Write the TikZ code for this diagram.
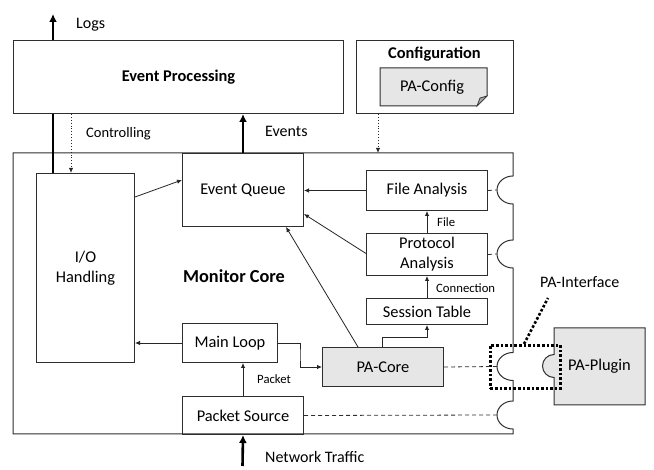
\documentclass[tikz,border=0pt]{standalone}
\usepackage{fontspec}
\setmainfont{Carlito}
\usetikzlibrary{arrows.meta,calc}
\definecolor{lc}{HTML}{2E2E2E}
\definecolor{gf}{HTML}{E6E6E6}
\definecolor{gd}{HTML}{A6A6A6}
\begin{document}
\begin{tikzpicture}[x=1pt,y=-1pt,
  box/.style={draw=lc, line width=1pt, inner sep=0pt, anchor=north west, align=center, font=\fontsize{16.4}{20}\selectfont},
  gbox/.style={box, fill=gf},
  txt/.style={inner sep=0pt, align=center, font=\fontsize{16.4}{20}\selectfont},
  lbl/.style={inner sep=0pt, anchor=west, font=\fontsize{16}{19}\selectfont},
  slbl/.style={inner sep=0pt, anchor=west, font=\fontsize{12.7}{15}\selectfont},
  arr/.style={draw=black!85, line width=0.8pt, -{Latex[length=5pt,width=4.5pt]}},
  tarr/.style={draw=black, line width=2.6pt, -{Latex[length=8pt,width=8pt]}},
  tline/.style={draw=black, line width=2.6pt},
  darr/.style={draw=black!85, line width=0.9pt, dotted, -{Latex[length=5pt,width=4.5pt]}},
  dline/.style={draw=lc, line width=0.8pt, dash pattern=on 4pt off 3pt},
  pdot/.style={draw=black, line width=2.6pt, dash pattern=on 2.6pt off 2pt},
]
\useasboundingbox (0,0) rectangle (654,470);

% Event Processing and Configuration
\node[box, minimum width=330pt, minimum height=73pt, font=\bfseries\fontsize{16.4}{20}\selectfont] (ep) at (13,40) {Event Processing};
\node[box, minimum width=157pt, minimum height=73pt] (cfg) at (356,40) {};
\node[txt, font=\bfseries\fontsize{16.4}{20}\selectfont] (cfgt) at (434.5,54) {Configuration};
\filldraw[fill=gf, draw=lc, line width=1pt] (380,68) -- (487,68) -- (487,96) -- (477,106) -- (380,106) -- cycle;
\filldraw[fill=gd, draw=lc, line width=0.7pt] (477,106) -- (480,98) -- (487,96) -- cycle;
\node[txt] (pacfg) at (432,87) {PA-Config};

% Monitor core outline
\coordinate (coreNW) at (13,153);
\draw[draw=lc, line width=1pt] (coreNW) -- (513,153) -- (513,176)
  arc[start angle=90, end angle=270, x radius=16pt, y radius=14pt] -- (513,240)
  arc[start angle=90, end angle=270, x radius=16pt, y radius=14pt] -- (513,352.5)
  arc[start angle=90, end angle=270, x radius=16pt, y radius=14pt] -- (513,401)
  arc[start angle=90, end angle=270, x radius=16pt, y radius=14pt] -- (513,434)
  -- (13,434) -- cycle;
\coordinate (n1) at (497,190);
\coordinate (n2) at (497,254);
\coordinate (n3) at (497,366.5);
\coordinate (n4) at (497,415);
\node[txt, font=\bfseries\fontsize{18.3}{22}\selectfont] (mc) at (234,276) {Monitor Core};

% Inner boxes
\node[box, minimum width=121pt, minimum height=73pt] (eq) at (182,153) {Event Queue};
\node[box, minimum width=98pt, minimum height=189pt] (io) at (36,173) {I/O\\Handling};
\node[box, minimum width=95pt, minimum height=39pt] (ml) at (182,323) {Main Loop};
\node[box, minimum width=121pt, minimum height=38pt] (ps) at (182,396) {Packet Source};
\node[gbox, minimum width=121pt, minimum height=39pt] (pac) at (322,347) {PA-Core};
\node[box, minimum width=121pt, minimum height=26pt] (st) at (366,298) {Session Table};
\node[box, minimum width=121pt, minimum height=42pt] (pa) at (366,233) {Protocol\\Analysis};
\node[box, minimum width=121pt, minimum height=40pt] (fa) at (366,170) {File Analysis};

% PA-Plugin with plug
\filldraw[fill=gf, draw=lc, line width=1pt] (554,328) -- (645,328) -- (645,405) -- (554,405) -- (554,377.5)
  arc[start angle=270, end angle=90, radius=11.5pt] -- cycle;
\node[txt] (plug) at (599.5,366.5) {PA-Plugin};

% PA-Interface
\node[pdot, inner sep=0pt, minimum width=70pt, minimum height=43pt, anchor=north west] (pai) at (489,344) {};
\coordinate (pait) at (548,298);
\draw[pdot] ([xshift=35pt]pai.north west) -- (pait);
\node[lbl] (pail) at (540,282) {PA-Interface};

% Thick lines and arrows
\coordinate (logtop) at (53,14);
\draw[tline] (io.north -| logtop) -- (ep.south -| logtop);
\draw[tarr] (ep.north -| logtop) -- (logtop);
\node[lbl] (logs) at (76,25) {Logs};
\draw[tarr] (eq.north) -- (ep.south -| eq.north);
\node[lbl] (evl) at (265,131) {Events};
\coordinate (nt) at (242.5,466);
\draw[tarr] (nt) -- (ps.south);
\node[lbl] (ntl) at (265,457) {Network Traffic};

% Dotted arrows
\coordinate (ctl) at (71,0);
\draw[darr] (ep.south -| ctl) -- (io.north -| ctl);
\node[lbl, font=\fontsize{14.5}{17}\selectfont] (ctll) at (86,134) {Controlling};
\coordinate (cfgx) at (378,0);
\draw[darr] (cfg.south -| cfgx) -- (cfgx |- coreNW);

% Thin arrows
\draw[arr] ([yshift=-24pt]io.north east) -- ([yshift=-27pt]eq.north west);
\draw[arr] (ml.west) -- (io.east |- ml.west);
\draw[arr] (ml.east) -| ($(ml.east)!0.5!(pac.west)$) |- (pac.west);
\draw[arr] (ps.north) -- (ml.south -| ps.north);
\node[slbl] (pkl) at (257,379) {Packet};
\draw[arr] ([xshift=60pt]pac.north west) -- ++(0,-10) -| (st.south);
\draw[arr] (st.north) -- (pa.south);
\node[slbl] (conl) at (436,288) {Connection};
\draw[arr] (pa.north) -- (fa.south);
\node[slbl] (fil) at (437,222) {File};
\draw[arr] (fa.west) -- (eq.east |- fa.west);
\draw[arr] ([yshift=1pt]pa.west) -- ([yshift=13pt]eq.south east);
\draw[arr] ([xshift=36pt]pac.north west) -- ([xshift=43pt]eq.south);

% Dashed interface lines
\draw[dline] (fa.east) -- (n1);
\draw[dline] (pa.east) -- (n2);
\draw[dline] (pac.east) -- (n3);
\draw[dline] (ps.east) -- (n4);
\end{tikzpicture}
\end{document}
